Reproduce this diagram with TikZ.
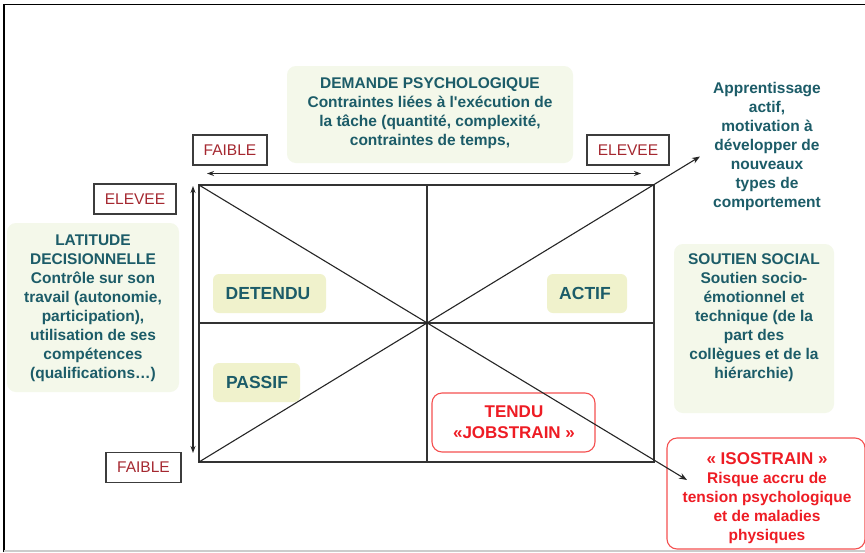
\documentclass[tikz,border=0pt]{standalone}
\usepackage{fontspec}
\setmainfont{Liberation Sans}[Ligatures=TeXOff]
\usetikzlibrary{arrows.meta}
\definecolor{teal1}{RGB}{28,92,104}
\definecolor{red1}{RGB}{238,28,36}
\definecolor{dred}{RGB}{165,40,48}
\definecolor{gfill}{RGB}{244,248,234}
\definecolor{yfill}{RGB}{240,242,204}
\definecolor{rbord}{RGB}{245,80,80}
\definecolor{lgray}{RGB}{60,60,60}
\tikzset{
  gbox/.style={draw=none, fill=gfill, rounded corners=9pt, inner sep=0pt},
  ybox/.style={draw=none, fill=yfill, rounded corners=6pt, inner sep=0pt},
  rbox/.style={draw=rbord, line width=1.1pt, fill=white, rounded corners=10pt, inner sep=0pt},
  lbox/.style={draw=lgray, line width=1.2pt, fill=white, inner sep=0pt, text=dred, font=\fontsize{15.5}{18}\selectfont},
  ttxt/.style={text=teal1, align=center, inner sep=0pt, font=\bfseries\fontsize{15.5}{19}\selectfont},
  rtxt/.style={text=red1, align=center, inner sep=0pt, font=\bfseries\fontsize{15.5}{19}\selectfont},
  qtxt/.style={text=teal1, inner sep=0pt, font=\bfseries\fontsize{17.5}{20}\selectfont},
  axis/.style={line width=1.1pt, draw=black!85, {Stealth[length=7pt,width=5pt]}-{Stealth[length=7pt,width=5pt]}},
  diag/.style={line width=1.1pt, draw=black!85, -{Stealth[length=8pt,width=6pt]}},
}
\begin{document}
\begin{tikzpicture}[x=1pt,y=-1pt]
\useasboundingbox (0,0) rectangle (865,552);
\fill[white] (0,0) rectangle (865,552);
% outer frame
\draw[line width=1.6pt, black] (4,552) -- (4,4.5) -- (866,4.5);
\draw[line width=1.4pt, black!20] (4,551) -- (866,551);

% green boxes
\node[gbox, minimum width=286pt, minimum height=97pt] (dembox) at (430,114.5) {};
\node[ttxt] (demtxt) at (430,113.5) {DEMANDE PSYCHOLOGIQUE\\Contraintes liées à l'exécution de\\la tâche (quantité, complexité,\\contraintes de temps,};

\node[gbox, minimum width=172pt, minimum height=169pt] (latbox) at (93,307.5) {};
\node[ttxt] (lattxt) at (93,308) {LATITUDE\\DECISIONNELLE\\Contrôle sur son\\travail (autonomie,\\participation),\\utilisation de ses\\compétences\\(qualifications…)};

\node[gbox, minimum width=160pt, minimum height=169pt] (soubox) at (754,328.5) {};
\node[ttxt] (soutxt) at (754,318) {SOUTIEN SOCIAL\\Soutien socio-\\émotionnel et\\technique (de la\\part des\\collègues et de la\\hiérarchie)};

\node[ttxt] (app) at (767,146.5) {Apprentissage\\actif,\\motivation à\\développer de\\nouveaux\\types de\\comportement};

% main grid
\coordinate (tl) at (199,185);
\coordinate (tr) at (654,185);
\coordinate (bl) at (199,462);
\coordinate (br) at (654,462);
\coordinate (tm) at (427,185);
\coordinate (bm) at (427,462);
\coordinate (lm) at (199,323);
\coordinate (rm) at (654,323);
\coordinate (ctr) at (427,323);
\draw[line width=1.2pt, draw=black!80] (tl) rectangle (br);
\draw[line width=1.1pt, draw=black!80] (tm) -- (bm);
\draw[line width=1.1pt, draw=black!80] (lm) -- (rm);

% quadrant labels
\node[ybox, minimum width=113pt, minimum height=39pt] (det) at (269.5,293.5) {};
\node[qtxt] (dett) at (268,293.5) {DETENDU};
\node[ybox, minimum width=80pt, minimum height=39pt] (act) at (587,293.5) {};
\node[qtxt] (actt) at (585,293.5) {ACTIF};
\node[ybox, minimum width=87pt, minimum height=39pt] (pas) at (256.5,382.5) {};
\node[qtxt] (past) at (257,382.5) {PASSIF};

% TENDU box
\node[rbox, minimum width=163pt, minimum height=59pt] (tend) at (513.5,422.5) {};
\node[rtxt, font=\bfseries\fontsize{17}{21}\selectfont] (tendt) at (514,422.5) {TENDU\\«JOBSTRAIN »};

% ISOSTRAIN box
\node[rbox, minimum width=198pt, minimum height=111pt] (iso) at (766,493.5) {};
\node[rtxt] (isot) at (767,498) {{\fontsize{17}{19}\selectfont « ISOSTRAIN »}\\Risque accru de\\tension psychologique\\et de maladies\\physiques};

% diagonals
\coordinate (up) at (700,156.5);
\coordinate (dn) at (687,480);
\draw[diag] (tl) -- (dn);
\draw[diag] (bl) -- (up);

% axes
\coordinate (hl) at (207,173.5);
\coordinate (hr) at (641,173.5);
\coordinate (vt) at (193,186);
\coordinate (vb) at (193,453);
\draw[axis] (hl) -- (hr);
\draw[axis] (vt) -- (vb);

% axis labels
\node[lbox, minimum width=74pt, minimum height=30pt] (f1) at (230,150) {FAIBLE};
\node[lbox, minimum width=82pt, minimum height=30pt] (e1) at (628,150) {ELEVEE};
\node[lbox, minimum width=82pt, minimum height=30pt] (e2) at (135,199) {ELEVEE};
\node[lbox, minimum width=75pt, minimum height=30pt] (f2) at (143.5,467.5) {FAIBLE};
\end{tikzpicture}
\end{document}
